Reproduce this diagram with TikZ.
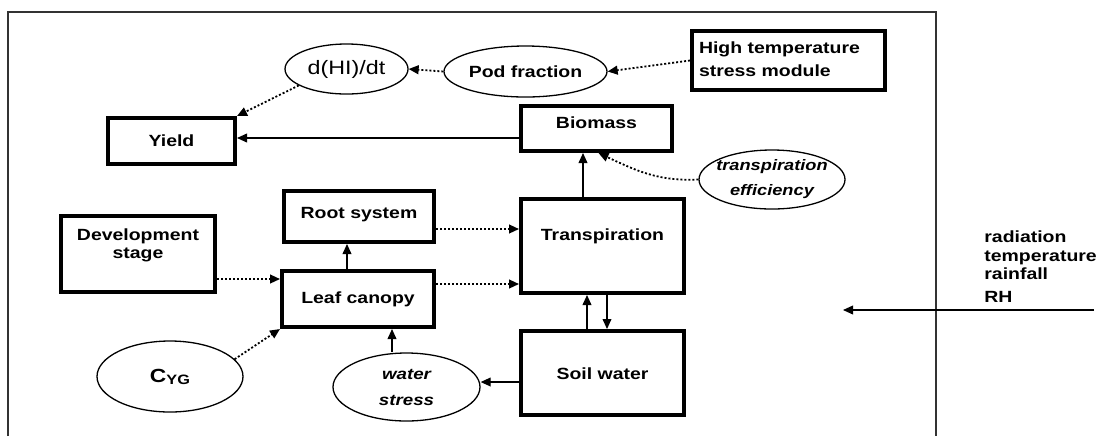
\documentclass[tikz,border=0pt]{standalone}
\usepackage{fontspec}
\setmainfont{Liberation Sans}[FakeStretch=1.2]
\usetikzlibrary{arrows.meta,shapes.geometric}

\tikzset{
  blk/.style={draw,line width=2.2pt,inner sep=0pt,text height=5.3pt,
    font=\fontsize{8.1}{9.2}\selectfont\bfseries},
  oval/.style={draw,ellipse,line width=0.65pt,inner sep=0pt,align=center},
  dots/.style={->,line width=0.9pt,dash pattern=on 1pt off 1pt},
  flow/.style={->,line width=0.6pt}
}

\begin{document}
\begin{tikzpicture}[>={Triangle[length=5pt,width=4.4pt]},x=0.5pt,y=-0.5pt]
\useasboundingbox (0,0) rectangle (1098,436);
% frame, open at the bottom
\draw[line width=0.6pt,black!80] (8,436) -- (8,12) -- (936,12) -- (936,436);

% boxes
\node[blk,minimum width=63.3pt,minimum height=22.8pt,text depth=0pt] (yield) at (171.5,141) {Yield};
\node[blk,minimum width=75.3pt,minimum height=22.3pt,text depth=5.3pt] (bm) at (596.5,128.5) {Biomass};
\node[blk,minimum width=74.8pt,minimum height=25.3pt,text depth=3.1pt] (rs) at (359,216.5) {Root system};
\node[blk,minimum width=75.8pt,minimum height=27.8pt,text depth=1.3pt] (lc) at (358,299) {Leaf canopy};
\node[blk,minimum width=81.3pt,minimum height=46.8pt,text depth=11pt] (tr) at (602.5,246) {Transpiration};
\node[blk,minimum width=81.3pt,minimum height=41.8pt,text height=6.6pt,text depth=0pt] (sw) at (602.5,373) {Soil water};
\node[blk,minimum width=76.8pt,minimum height=37.8pt,text width=70pt,align=center,text depth=19pt] (dev) at (138,254) {Development\\stage};
\node[blk,minimum width=96.3pt,minimum height=29.3pt,text width=89.5pt,align=left,text depth=12.5pt,
  font=\fontsize{8.1}{11.7}\selectfont\bfseries] (hts) at (788.5,60.5) {High temperature\\stress module};

% ovals
\node[oval,minimum width=61.5pt,minimum height=25pt,font=\fontsize{9.7}{10}\selectfont] (dhi) at (346.5,69) {d(HI)/dt};
\node[oval,minimum width=81.5pt,minimum height=25.5pt,font=\fontsize{8.1}{9}\selectfont\bfseries] (pod) at (525.5,71.5) {Pod fraction};
\node[oval,minimum width=73pt,minimum height=29.5pt,inner xsep=-3pt,
  font=\fontsize{7.6}{12.5}\selectfont\bfseries\itshape] (te) at (772,179.5) {transpiration\\efficiency};
\node[oval,minimum width=73.5pt,minimum height=34pt,font=\fontsize{7.8}{13}\selectfont\bfseries\itshape] (ws) at (406.5,387) {water\\stress};
\node[oval,minimum width=73pt,minimum height=35.5pt,font=\fontsize{9.5}{10}\selectfont\bfseries] (cyg) at (170,376.5) {C\raisebox{-1pt}{\fontsize{6.8}{7}\selectfont YG}};

% weather inputs
\node[anchor=base west,inner sep=0pt,text width=62pt,align=left,
  font=\fontsize{8.1}{9.4}\selectfont\bfseries] (wthr) at (984,242.3) {radiation\\temperature\\rainfall\\[2.1pt]RH};
\coordinate (wsrc) at (1094,310);
\coordinate (wend) at (843,310);
\draw[flow] (wsrc) -- (wend);

% links
\draw[dots] (dhi.199) -- (yield.north east);
\draw[dots] (pod.west) -- (dhi.east);
\draw[dots] (hts.west) -- (pod.east);
\draw[flow] ([yshift=1.5pt]yield.east -| bm.west) -- ([yshift=1.5pt]yield.east);
\draw[flow] ([xshift=-9.75pt]tr.north) -- ([xshift=-9.75pt]tr.north |- bm.south);
\draw[dots] (te.west) to[out=183,in=-25] ([xshift=1pt]bm.south);
\draw[dots] ([yshift=-6.25pt]rs.east) -- ([yshift=-6.25pt]rs.east -| tr.west);
\draw[dots] ([yshift=7.5pt]lc.east) -- ([yshift=7.5pt]lc.east -| tr.west);
\draw[flow] ([xshift=-5.5pt]lc.north) -- ([xshift=-5.5pt]lc.north |- rs.south);
\draw[dots] ([yshift=-12.5pt]dev.east) -- ([yshift=-12.5pt]dev.east -| lc.west);
\draw[dots] (cyg.15) -- (lc.south west);
\draw[flow] ([xshift=-7.25pt]ws.north) -- ([xshift=-7.25pt]ws.north |- lc.south);
\draw[flow] ([yshift=-4.5pt]sw.west) -- ([yshift=-4.5pt]sw.west -| ws.east);
\draw[flow] ([xshift=-7.75pt]sw.north) -- ([xshift=-7.75pt]sw.north |- tr.south);
\draw[flow] ([xshift=2.25pt]tr.south) -- ([xshift=2.25pt]tr.south |- sw.north);
\end{tikzpicture}
\end{document}
